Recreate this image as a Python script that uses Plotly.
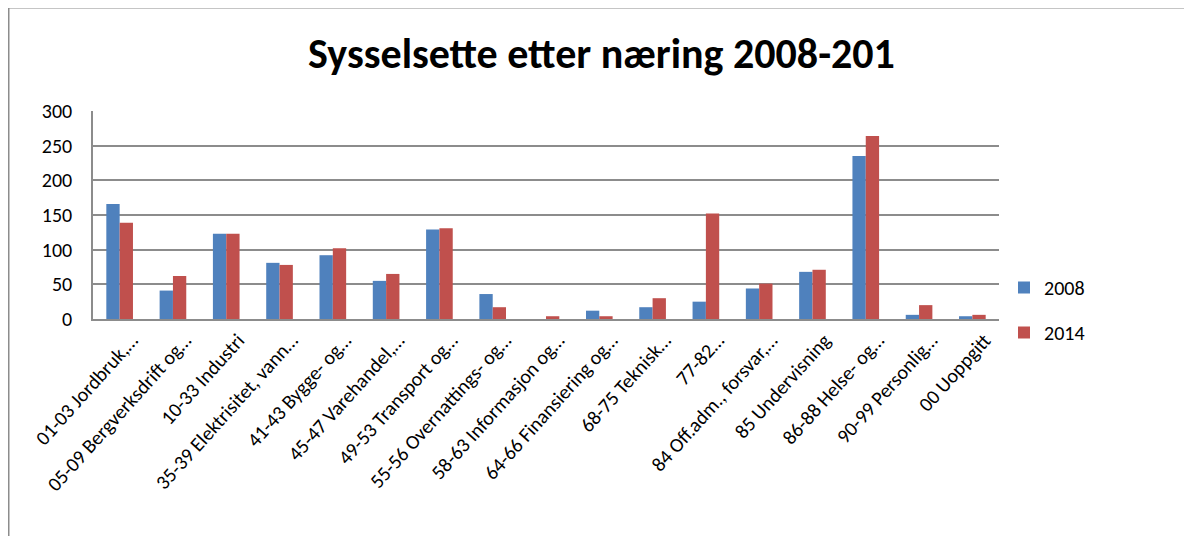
import plotly.graph_objects as go

categories = [
    "01-03 Jordbruk,…", "05-09 Bergverksdrift og…", "10-33 Industri",
    "35-39 Elektrisitet, vann…", "41-43 Bygge- og…", "45-47 Varehandel,…",
    "49-53 Transport og…", "55-56 Overnattings- og…", "58-63 Informasjon og…",
    "64-66 Finansiering og…", "68-75 Teknisk…", "77-82…",
    "84 Off.adm., forsvar,…", "85 Undervisning", "86-88 Helse- og…",
    "90-99 Personlig…", "00 Uoppgitt",
]
values_2008 = [166, 41, 123, 81, 92, 55, 129, 36, 0, 12, 17, 25, 44, 68, 235, 6, 4]
values_2014 = [139, 62, 123, 78, 102, 65, 131, 17, 4, 4, 30, 152, 51, 71, 264, 20, 6]
series_names = ["2008", "2014"]
colors = ["#4F81BD", "#C0504D"]

FONT = "Carlito, Calibri, Lato, sans-serif"

fig = go.Figure()
for name, vals, col in zip(series_names, [values_2008, values_2014], colors):
    fig.add_trace(go.Bar(
        x=categories, y=vals, name=name, legendgroup=name,
        marker=dict(color=col, line=dict(width=0)),
    ))

# page body has an 8px offset; work in figure pixels = viewport - 8
OFF = 8
FW, FH = 1192 - OFF, 536 - OFF
pl, pr, pt, pb = 93 - OFF, 999 - OFF, 111 - OFF, 319 - OFF
W, H = pr - pl, pb - pt


def px(x):
    return (x - pl) / W


def py(y):
    return (pb - y) / H


fig.update_layout(
    width=FW, height=FH,
    paper_bgcolor="white", plot_bgcolor="white",
    margin=dict(l=pl, r=FW - pr, t=pt, b=FH - pb),
    barmode="group", bargap=0.5, bargroupgap=0,
    title=dict(text="<b>Sysselsette etter næring 2008-201</b>",
               font=dict(family=FONT, size=42, color="black"),
               x=(601.5 - OFF) / FW, xanchor="center", y=1 - 45 / FH, yanchor="middle"),
    font=dict(family=FONT, color="black"),
    xaxis=dict(tickangle=-48, tickfont=dict(size=20, color="black"),
               showline=True, linecolor="#8c8c8c", linewidth=1.5,
               showgrid=False, ticks="", automargin=False,
               ticklabelshift=12),
    yaxis=dict(range=[0, 300], dtick=50, tickfont=dict(size=20, color="black"),
               showgrid=True, gridcolor="#8c8c8c", gridwidth=1.6,
               showline=True, linecolor="#8c8c8c", linewidth=1.6,
               zeroline=False, ticks="", ticklabelstandoff=15, automargin=False),
    legend=dict(x=px(1004 - OFF), xanchor="left", y=py(268 - OFF), yanchor="top",
                font=dict(family=FONT, size=20, color="black"),
                tracegroupgap=16, traceorder="grouped",
                itemwidth=30),
    shapes=[
        dict(type="line", xref="paper", yref="paper",
             x0=px(0.75), x1=px(0.75), y0=py(-1), y1=py(FH + 5),
             line=dict(color="#8c8c8c", width=1.5)),
        dict(type="line", xref="paper", yref="paper",
             x0=px(0), x1=px(FW + 5), y0=py(-0.25), y1=py(-0.25),
             line=dict(color="#8c8c8c", width=1.5)),
    ],
)

fig.write_html("out.html")
